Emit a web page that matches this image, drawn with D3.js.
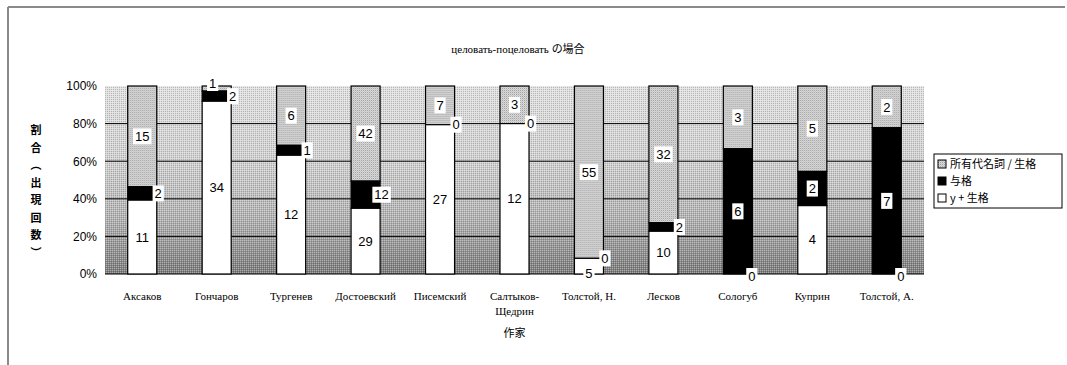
<!DOCTYPE html>
<html>
<head>
<meta charset="utf-8">
<script src="https://cdn.jsdelivr.net/npm/d3@7"></script>
<style>
  body { margin: 0; background: #fff; }
  svg { display: block; }
</style>
</head>
<body>
<svg id="chart" width="1067" height="365"></svg>
<script>
// data
var authors = ["Аксаков", "Гончаров", "Тургенев", "Достоевский", "Писемский",
    "Салтыков-|Щедрин", "Толстой, Н.", "Лесков", "Сологуб", "Куприн", "Толстой, А."];
var uGen = [11, 34, 12, 29, 27, 12, 5, 10, 0, 4, 0];      // у + 生格 (white)
var dative = [2, 2, 1, 12, 0, 0, 0, 2, 6, 2, 7];           // 与格 (black)
var possGen = [15, 1, 6, 42, 7, 3, 55, 32, 3, 5, 2];       // 所有代名詞 / 生格 (grey)
var seriesNames = ["所有代名詞 / 生格", "与格", "у + 生格"];
var yTicks = [0, 0.2, 0.4, 0.6, 0.8, 1];

var svg = d3.select("#chart");
var defs = svg.append("defs");

var plotLeft = 105, plotRight = 924, plotTop = 86, plotBottom = 274;

// background gradient of the plot area
var grad = defs.append("linearGradient").attr("id", "bg")
    .attr("x1", 0).attr("y1", 0).attr("x2", 0).attr("y2", 1);
grad.append("stop").attr("offset", "0%").attr("stop-color", "#e2e2e2");
grad.append("stop").attr("offset", "40%").attr("stop-color", "#d2d2d2");
grad.append("stop").attr("offset", "70%").attr("stop-color", "#b4b4b4");
grad.append("stop").attr("offset", "100%").attr("stop-color", "#7c7c7c");

// dither texture
var dots = defs.append("pattern").attr("id", "dots")
    .attr("width", 2).attr("height", 2).attr("patternUnits", "userSpaceOnUse");
dots.append("rect").attr("width", 1).attr("height", 1).attr("fill", "#fff").attr("opacity", 0.35);
dots.append("rect").attr("x", 1).attr("y", 1).attr("width", 1).attr("height", 1)
    .attr("fill", "#000").attr("opacity", 0.18);

// grey hatch for possessive series
var hatch = defs.append("pattern").attr("id", "hatch")
    .attr("width", 2).attr("height", 2).attr("patternUnits", "userSpaceOnUse");
hatch.append("rect").attr("width", 2).attr("height", 2).attr("fill", "#dadada");
hatch.append("rect").attr("width", 1).attr("height", 1).attr("fill", "#a0a0a0");
hatch.append("rect").attr("x", 1).attr("y", 1).attr("width", 1).attr("height", 1).attr("fill", "#c6c6c6");

// outer frame
svg.append("line").attr("x1", 8).attr("y1", 7).attr("x2", 1065).attr("y2", 7)
    .attr("stroke", "#8a8a8a").attr("stroke-width", 2);
svg.append("line").attr("x1", 8).attr("y1", 7).attr("x2", 8).attr("y2", 365)
    .attr("stroke", "#8a8a8a").attr("stroke-width", 2);

var x = d3.scaleBand().domain(authors).range([plotLeft, plotRight]).padding(0);
var y = d3.scaleLinear().domain([0, 1]).range([plotBottom, plotTop]);
var barW = x.bandwidth() * 0.39;

// plot area
svg.append("rect").attr("x", plotLeft).attr("y", plotTop).attr("width", plotRight - plotLeft)
    .attr("height", plotBottom - plotTop).attr("fill", "url(#bg)");
svg.append("rect").attr("x", plotLeft).attr("y", plotTop).attr("width", plotRight - plotLeft)
    .attr("height", plotBottom - plotTop).attr("fill", "url(#dots)");

svg.selectAll("line.grid").data(yTicks.filter(function (d) { return d > 0 && d < 1; }))
    .enter().append("line").attr("class", "grid")
    .attr("x1", plotLeft).attr("x2", plotRight)
    .attr("y1", function (d) { return y(d); }).attr("y2", function (d) { return y(d); })
    .attr("stroke", "#000").attr("stroke-width", 1);

svg.append("line").attr("x1", plotLeft).attr("x2", plotRight).attr("y1", plotBottom).attr("y2", plotBottom)
    .attr("stroke", "#000").attr("stroke-width", 1);

// y axis
var yAxis = svg.append("g").attr("transform", "translate(97,0)")
    .call(d3.axisLeft(y).tickValues(yTicks).tickFormat(d3.format(".0%")).tickSize(0).tickPadding(0));
yAxis.select(".domain").remove();
yAxis.selectAll("text").attr("font-family", "Liberation Sans, Arial, sans-serif")
    .attr("font-size", 12).attr("fill", "#000");

// stacked data
var rows = authors.map(function (a, i) {
    var t = uGen[i] + dative[i] + possGen[i];
    return {
        name: a, u: uGen[i], d: dative[i], p: possGen[i],
        y1: uGen[i] / t, y2: (uGen[i] + dative[i]) / t
    };
});

var bars = svg.selectAll("g.bar").data(rows).enter().append("g").attr("class", "bar")
    .attr("transform", function (d) { return "translate(" + (x(d.name) + x.bandwidth() / 2 - barW / 2) + ",0)"; });

bars.append("rect").attr("width", barW)
    .attr("y", y(1))
    .attr("height", function (d) { return y(d.y2) - y(1); })
    .attr("fill", "url(#hatch)").attr("stroke", "#000").attr("stroke-width", 1.2);
bars.append("rect").attr("width", barW)
    .attr("y", function (d) { return y(d.y2); })
    .attr("height", function (d) { return y(d.y1) - y(d.y2); })
    .attr("fill", "#000").attr("stroke", "#000").attr("stroke-width", 1.2);
bars.append("rect").attr("width", barW)
    .attr("y", function (d) { return y(d.y1); })
    .attr("height", function (d) { return y(0) - y(d.y1); })
    .attr("fill", "#fff").attr("stroke", "#000").attr("stroke-width", 1.2);

// data labels
function label(g, text, cx, cy) {
    var t = g.append("text").attr("x", cx).attr("y", cy).attr("dy", "0.36em")
        .attr("text-anchor", "middle")
        .attr("font-family", "Liberation Sans, Arial, sans-serif").attr("font-size", 13)
        .text(text);
    var b = t.node().getBBox();
    g.insert("rect", function () { return t.node(); })
        .attr("x", b.x - 2).attr("y", cy - 8).attr("width", b.width + 4).attr("height", 16)
        .attr("fill", "#fff");
}

rows.forEach(function (d) {
    var cx = x(d.name) + x.bandwidth() / 2;
    var g = svg.append("g");
    // white segment
    var wh = y(0) - y(d.y1);
    if (d.u === 0) label(g, d.u, cx + 14, y(0) + 2);
    else if (wh < 18) label(g, d.u, cx, y(0) - 1);
    else label(g, d.u, cx, y(0) - wh / 2);
    // black segment
    var bh = y(d.y1) - y(d.y2);
    label(g, d.d, bh < 30 ? cx + 16 : cx, y(d.y1) - bh / 2);
    // grey segment
    var gy = (y(d.y2) + y(1)) / 2;
    if (y(d.y2) - y(1) < 12) {
        g.append("line").attr("x1", cx - 4).attr("x2", cx - 4).attr("y1", y(1) - 7).attr("y2", y(1))
            .attr("stroke", "#000");
        label(g, d.p, cx - 4, y(1) - 3);
    } else label(g, d.p, cx, gy);
});

// category labels
var cat = svg.selectAll("text.cat").data(authors).enter().append("text").attr("class", "cat")
    .attr("x", function (d) { return x(d) + x.bandwidth() / 2; })
    .attr("y", 300)
    .attr("text-anchor", "middle")
    .attr("font-family", "Liberation Serif, Times New Roman, serif").attr("font-size", 11);
cat.each(function (d) {
    var parts = d.split("|");
    var el = d3.select(this);
    parts.forEach(function (p, i) {
        el.append("tspan").attr("x", el.attr("x")).attr("dy", i ? 15 : 0).text(p);
    });
});

// axis titles
svg.append("text").attr("x", (plotLeft + plotRight) / 2).attr("y", 337).attr("text-anchor", "middle")
    .attr("font-family", "Noto Sans CJK JP, sans-serif").attr("font-size", 11).text("作家");

var yTitle = ["割", "合", "︵", "出", "現", "回", "数", "︶"];
svg.selectAll("text.ytitle").data(yTitle).enter().append("text").attr("class", "ytitle")
    .attr("x", 36).attr("y", function (d, i) { return 134 + i * 17.5; })
    .attr("text-anchor", "middle")
    .attr("font-family", "Noto Sans CJK JP, sans-serif").attr("font-size", 11).attr("font-weight", "bold")
    .text(function (d) { return d; });

// chart title
var title = svg.append("text").attr("x", 518).attr("y", 53).attr("text-anchor", "middle")
    .attr("font-size", 11);
title.append("tspan").attr("font-family", "Liberation Serif, serif").text("целовать-поцеловать ");
title.append("tspan").attr("font-family", "Noto Sans CJK JP, sans-serif").text("の場合");

// legend
var lg = svg.append("g").attr("transform", "translate(934,154)");
lg.append("rect").attr("width", 128).attr("height", 54).attr("fill", "#fff")
    .attr("stroke", "#000").attr("stroke-width", 1);
var fills = ["url(#hatch)", "#000", "#fff"];
seriesNames.forEach(function (s, i) {
    var row = lg.append("g").attr("transform", "translate(4," + (10 + i * 17) + ")");
    row.append("rect").attr("x", 0).attr("y", -4).attr("width", 8).attr("height", 8)
        .attr("fill", fills[i]).attr("stroke", "#000").attr("stroke-width", 1);
    row.append("text").attr("x", 12).attr("y", 0).attr("dy", "0.36em")
        .attr("font-family", "Noto Sans CJK JP, sans-serif").attr("font-size", 11)
        .text(s);
});
</script>
</body>
</html>
